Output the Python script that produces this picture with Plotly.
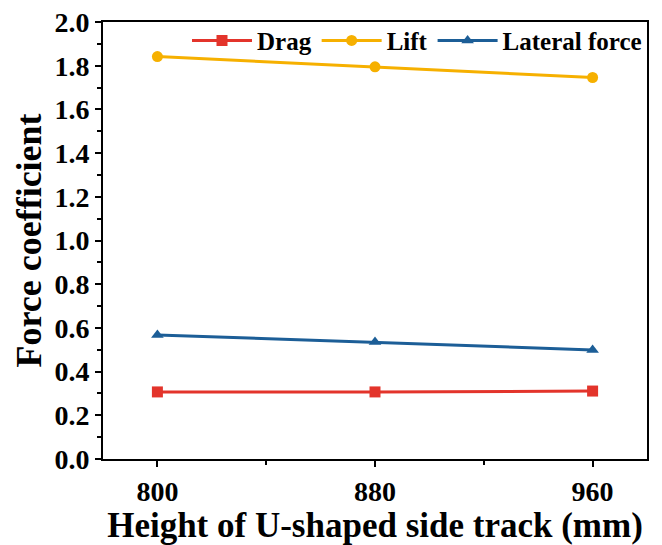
import plotly.graph_objects as go

# Side-track height (mm) and the aerodynamic force coefficients at each height
heights = [800, 880, 960]
drag = [0.307, 0.307, 0.311]
lift = [1.842, 1.795, 1.746]
lateral = [0.568, 0.535, 0.499]

x_ticks = [800, 880, 960]
y_ticks = [0.0, 0.2, 0.4, 0.6, 0.8, 1.0, 1.2, 1.4, 1.6, 1.8, 2.0]

FONT = "Liberation Serif"

series = [
    ("Drag", drag, "#E3342B", "square"),
    ("Lift", lift, "#F6B000", "circle"),
    ("Lateral force", lateral, "#1C5E97", "triangle-up"),
]

fig = go.Figure()
for name, vals, color, symbol in series:
    fig.add_trace(go.Scatter(
        x=heights, y=vals, name=name, mode="lines+markers",
        line=dict(color=color, width=3),
        marker=dict(symbol=symbol, size=11, color=color),
    ))

axis_common = dict(
    showline=True, linecolor="black", linewidth=2, mirror=True,
    ticks="outside", ticklen=6, tickwidth=2, tickcolor="black",
    showgrid=False, zeroline=False, automargin=False,
    tickfont=dict(family=FONT, size=28, color="black", weight="bold"),
)

fig.update_xaxes(
    range=[780, 980], tickvals=x_ticks,
    minor=dict(dtick=40, tick0=800, ticks="outside", ticklen=4, tickwidth=2, tickcolor="black"),
    title=dict(text="<b>Height of U-shaped side track (mm)</b>",
               font=dict(family=FONT, size=35, color="black"), standoff=2),
    **axis_common,
)
fig.update_yaxes(
    range=[0, 2.0], tickvals=y_ticks, ticktext=[f"{v:.1f}" for v in y_ticks],
    minor=dict(dtick=0.1, ticks="outside", ticklen=4, tickwidth=2, tickcolor="black"),
    title=dict(text="<b>Force coefficient</b>",
               font=dict(family=FONT, size=36, color="black"), standoff=2),
    **axis_common,
)

fig.update_layout(
    width=662, height=545,
    margin=dict(l=103, r=15, t=22, b=86),
    paper_bgcolor="white", plot_bgcolor="white",
    showlegend=True,
    legend=dict(
        orientation="h", x=1.0, xanchor="right", y=1.01, yanchor="top",
        bgcolor="rgba(0,0,0,0)", itemwidth=60, tracegroupgap=0,
        font=dict(family=FONT, size=25, color="black", weight="bold"),
    ),
)

fig.write_html("out.html")
